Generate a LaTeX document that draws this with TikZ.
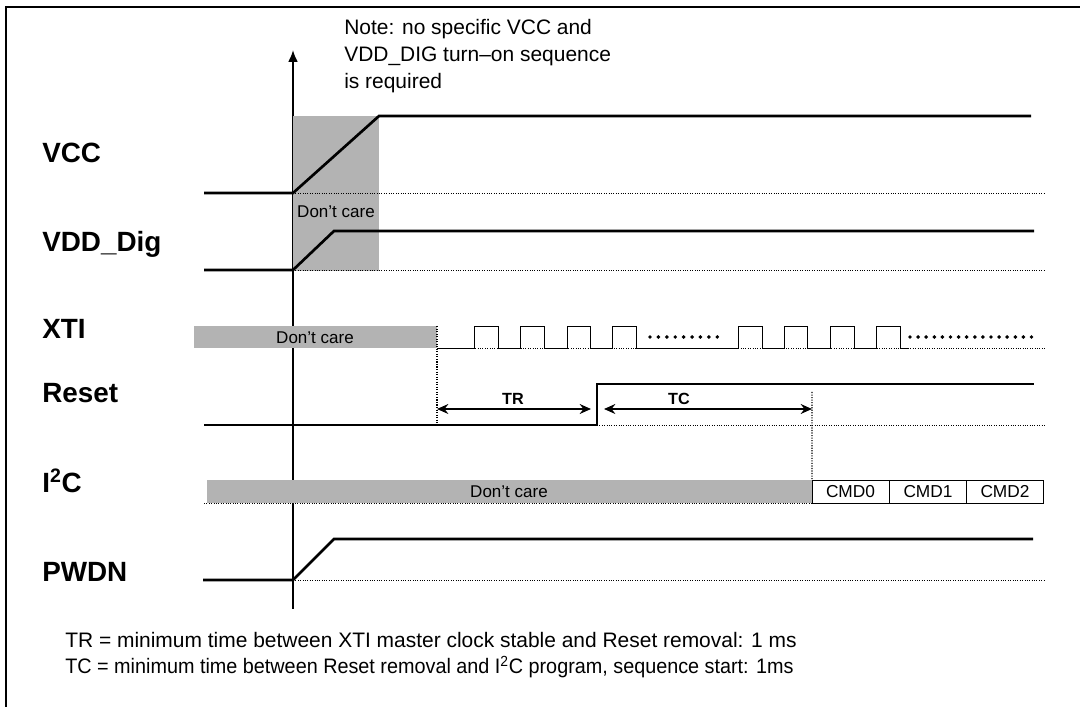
\documentclass[tikz,border=0pt]{standalone}
\usepackage{fontspec}
\usepackage{graphicx}
\setmainfont{Liberation Sans}
\usetikzlibrary{arrows.meta}
\definecolor{dcgray}{RGB}{179,179,179}

\begin{document}
\begin{tikzpicture}[x=0.025cm,y=-0.025cm,
    sig/.style={line width=1.9pt},
    clksig/.style={line width=0.6pt},
    base/.style={densely dotted,line width=0.7pt},
    marker/.style={densely dotted,line width=0.8pt},
    sname/.style={anchor=base west,inner sep=0pt,font=\fontsize{19.8}{22}\selectfont\bfseries},
    dctext/.style={font=\fontsize{12.1}{14}\selectfont},
    span/.style={line width=1.4pt,{Stealth[length=8pt,width=7pt]}-{Stealth[length=8pt,width=7pt]}},
    spanlbl/.style={font=\fontsize{11.5}{13}\selectfont\bfseries},
    cmdbox/.style={draw,line width=0.7pt,minimum width=1.925cm,minimum height=0.575cm,inner sep=0pt,outer sep=0pt,font=\fontsize{12.3}{14}\selectfont},
    notetext/.style={anchor=base west,align=left,inner sep=0pt,font=\fontsize{14.9}{19.2}\selectfont}]
\useasboundingbox (0,0) rectangle (1080,707);

% frame
\draw[line width=1.2pt] (6,707) -- (6,7) -- (1080,7);

% time axis
\draw[line width=1.3pt,-{Latex[length=8.5pt,width=7pt]}] (293,609) -- (293,50);

% don't care areas
\fill[dcgray] (293,116) rectangle (379,271);
\fill[dcgray] (194,326) rectangle (437,348);
\fill[dcgray] (207,480) rectangle (812,503);
\node[dctext] (dcpower) at (336,212) {Don't care};
\node[dctext] (dcxti) at (315,338) {Don't care};
\node[dctext] (dcitwoc) at (509,492) {Don't care};

% signal names
\node[sname] (vcc) at (42,163) {VCC};
\node[sname] (vdd) at (42,252) {VDD\_Dig};
\node[sname] (xti) at (42,339) {XTI};
\node[sname] (reset) at (42,403) {Reset};
\node[sname] (itwoc) at (42,493) {I\textsuperscript{2}C};
\node[sname] (pwdn) at (42,582) {PWDN};

% base lines
\draw[base] (293,193) -- (1045,193);
\draw[base] (293,270) -- (1045,270);
\draw[base] (437,348) -- (1045,348);
\draw[base] (597,425) -- (1045,425);
\draw[base] (204,503) -- (812,503);
\draw[base] (293,580) -- (1045,580);

% VCC
\draw[sig] (204,193) -- (293,193) -- (379,116) -- (1031,116);
% VDD_Dig
\draw[sig] (204,270) -- (293,270) -- (334,231) -- (1034,231);
% XTI clock
\draw[clksig] (437,348) -- (474,348) |- (498,326) |- (520,348) |- (544,326) |- (567,348)
  |- (590,326) |- (612,348) |- (636,326) |- (738,348) |- (762,326) |- (784,348)
  |- (807,326) |- (830,348) |- (854,326) |- (876,348) |- (900,326) |- (909,348);
\draw[line width=2.8pt,line cap=round,dash pattern=on 0pt off 5.98pt] (650,337) -- (718,337);
\draw[line width=2.8pt,line cap=round,dash pattern=on 0pt off 5.76pt] (910,337) -- (1034,337);
% Reset
\draw[sig] (204,425) -- (597,425) -- (597,384) -- (1034,384);
% I2C
\node[cmdbox] (cmd0) at (850.5,491.5) {CMD0};
\node[cmdbox] (cmd1) at (928,491.5) {CMD1};
\node[cmdbox] (cmd2) at (1005,491.5) {CMD2};
% PWDN
\draw[sig] (203,580) -- (293,580) -- (334,539) -- (1033,539);

% TR and TC
\coordinate (xtiok) at (437,326);
\coordinate (tra) at (437,409);
\coordinate (trb) at (591,409);
\coordinate (tca) at (604,409);
\coordinate (tcb) at (812,409);
\coordinate (cmdstart) at (812,392);
\draw[marker] (xtiok) -- (437,425);
\draw[marker] (cmdstart) -- (cmd0.north west);
\draw[span] (tra) -- (trb);
\draw[span] (tca) -- (tcb);
\node[spanlbl] (trlbl) at (513,399) {TR};
\node[spanlbl] (tclbl) at (679,399) {TC};

% notes
\node[notetext] (note) at (344,89) {Note: no specific VCC and\\VDD\_DIG turn--on sequence\\is required};
\node[notetext] (trnote) at (65,648) {TR = minimum time between XTI master clock stable and Reset removal: 1 ms};
\node[notetext] (tcnote) at (65,674) {\scalebox{0.945}[1]{TC = minimum time between Reset removal and I\textsuperscript{2}C program, sequence start: 1ms}};

\end{tikzpicture}
\end{document}
